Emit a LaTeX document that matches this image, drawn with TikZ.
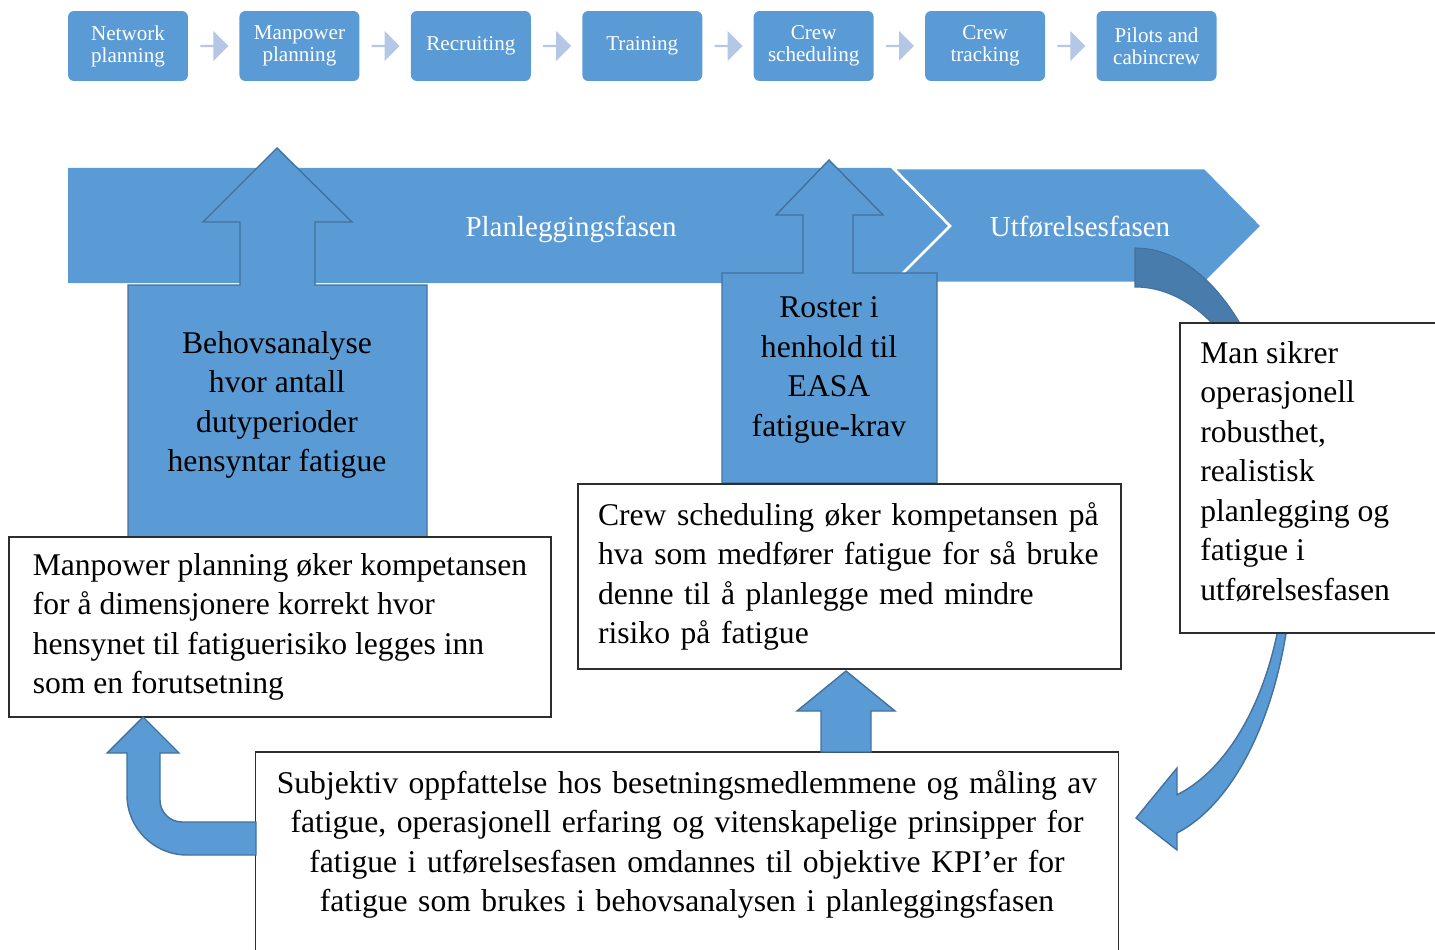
\documentclass[tikz,border=0pt]{standalone}
\usepackage{fontspec}
\setmainfont{Liberation Serif}
\usetikzlibrary{positioning,calc,shapes.arrows}

\definecolor{officeblue}{RGB}{91,155,213}
\definecolor{edgeblue}{RGB}{65,113,156}
\definecolor{paleblue}{RGB}{180,199,231}
\definecolor{shadeblue}{RGB}{72,124,172}
\definecolor{frameline}{RGB}{45,45,45}

\begin{document}
\begin{tikzpicture}[
  x=0.02cm, y=-0.02cm,
  font=\fontsize{18}{22.5}\selectfont,
  node distance=12mm and 10.15mm,
  stepbox/.style={rounded corners=0.12cm, fill=officeblue, text=white, align=center, minimum width=2.4cm, minimum height=1.4cm, inner sep=2pt, font=\fontsize{12}{12.5}\selectfont},
  chev/.style={single arrow, fill=paleblue, inner sep=0pt, minimum width=0.6cm, minimum height=0.56cm, single arrow head extend=0.08cm},
  phasetext/.style={text=white, font=\fontsize{16.5}{18}\selectfont},
  blockup/.style={fill=officeblue, draw=edgeblue, line width=0.8pt},
  textbox/.style={draw=frameline, fill=white, line width=0.7pt, align=left},
  framebox/.style={draw=frameline, line width=0.7pt}
]
\useasboundingbox (0,0) rectangle (1435,949);
\clip (0,0) rectangle (1435,949);

% Process row (left to right)
\node[stepbox] (network) at (128,46) {Network\\planning};
\node[stepbox, right=of network] (manpower) {Manpower\\planning};
\node[stepbox, right=of manpower] (recruit) {Recruiting};
\node[stepbox, right=of recruit] (training) {Training};
\node[stepbox, right=of training] (crewsched) {Crew\\scheduling};
\node[stepbox, right=of crewsched] (crewtrack) {Crew\\tracking};
\node[stepbox, right=of crewtrack] (pilots) {Pilots and\\cabincrew};

\node[chev] (ch1) at ($(network.east)!0.5!(manpower.west)$) {};
\node[chev] (ch2) at ($(manpower.east)!0.5!(recruit.west)$) {};
\node[chev] (ch3) at ($(recruit.east)!0.5!(training.west)$) {};
\node[chev] (ch4) at ($(training.east)!0.5!(crewsched.west)$) {};
\node[chev] (ch5) at ($(crewsched.east)!0.5!(crewtrack.west)$) {};
\node[chev] (ch6) at ($(crewtrack.east)!0.5!(pilots.west)$) {};

% Phase band
\fill[officeblue] (68,168) -- (893,168) -- (950,226) -- (893,283) -- (68,283) -- cycle;
\filldraw[fill=officeblue, draw=white, line width=1.5pt] (893,168) -- (1205,168) -- (1262,226) -- (1205,283) -- (893,283) -- (950,226) -- cycle;
\node[phasetext] (plan) at (571,229) {Planleggingsfasen};
\node[phasetext] (exec) at (1080,227) {Utførelsesfasen};

% Up arrows into the planning phase
\filldraw[blockup] (128,537) -- (128,285) -- (240,285) -- (240,222) -- (203,222) -- (277,148) -- (352,222) -- (315,222) -- (315,285) -- (427,285) -- (427,537) -- cycle;
\node[align=center] (behov) at (277,405) {Behovsanalyse\\hvor antall\\dutyperioder\\hensyntar fatigue};

\filldraw[blockup] (722,483) -- (722,273) -- (803,273) -- (803,215) -- (776,215) -- (829,160) -- (883,215) -- (853,215) -- (853,273) -- (937,273) -- (937,483) -- cycle;
\node[align=center] (roster) at (829,370) {Roster i\\henhold til\\EASA\\fatigue-krav};

% Curved arrow out of the execution phase
\filldraw[fill=shadeblue, draw=edgeblue, line width=0.6pt] (1135,248) arc[start angle=-90, end angle=0, x radius=158, y radius=298] -- (1286,546) arc[start angle=0, end angle=-90, x radius=151, y radius=259] -- cycle;
\filldraw[blockup] (1286,546) arc[start angle=0, end angle=73.85, x radius=151, y radius=259] -- (1177,768) -- (1136,818) -- (1177,850) -- (1177,833) arc[start angle=74.58, end angle=0, x radius=158, y radius=298] -- cycle;

% Text boxes
\fill[white] (1180,323) rectangle (1480,633);
\node[anchor=north west, align=left, inner xsep=0.4cm, inner ysep=0.36cm] (robust) at (1180,323) {Man sikrer\\operasjonell\\robusthet,\\realistisk\\planlegging og\\fatigue i\\utførelsesfasen};
\draw[framebox] (robust.north west) rectangle ++(300,310);

\node[textbox, minimum width=10.84cm, minimum height=3.6cm] (manpowertxt) at (280,627) {Manpower planning øker kompetansen\\for å dimensjonere korrekt hvor\\hensynet til fatiguerisiko legges inn\\som en forutsetning};

\node[textbox, text width=10.06cm, inner xsep=0.4cm, minimum height=3.7cm] (crewtxt) at (849.5,576.5) {Crew scheduling øker kompetansen på\\hva som medfører fatigue for så bruke\\denne til å planlegge med mindre\\risiko på fatigue};

\node[align=center, anchor=north, text width=16.8cm, inner xsep=0.22cm, inner ysep=0.36cm] (kpi) at (687,752) {Subjektiv oppfattelse hos besetningsmedlemmene og måling av\\fatigue, operasjonell erfaring og vitenskapelige prinsipper for\\fatigue i utførelsesfasen omdannes til objektive KPI’er for\\fatigue som brukes i behovsanalysen i planleggingsfasen};
\draw[framebox] (kpi.north west) rectangle ([yshift=-3cm]kpi.south east);

% Feedback arrows from the KPI box
\filldraw[blockup] (821,752) -- (821,711) -- (797,711) -- (846,671) -- (895,711) -- (871,711) -- (871,752) -- cycle;
\filldraw[blockup] (256,822) -- (182,822) arc[start angle=90, end angle=180, radius=22] -- (160,753) -- (179,753) -- (143,717) -- (107,753) -- (127,753) -- (127,795) arc[start angle=180, end angle=90, radius=60] -- (256,855) -- cycle;

\end{tikzpicture}
\end{document}
